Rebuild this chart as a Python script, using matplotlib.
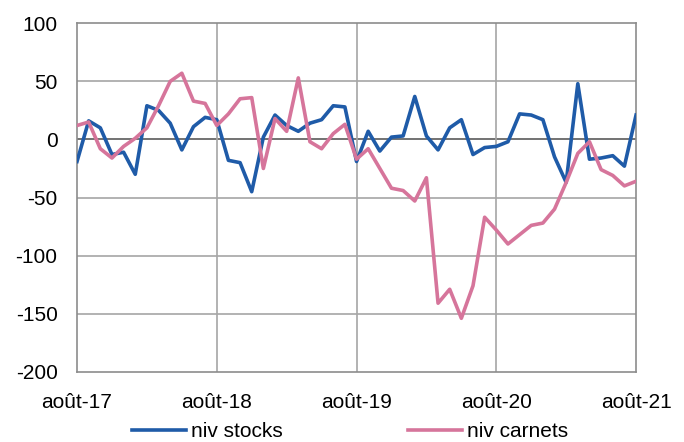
import numpy as np
import pandas as pd
import matplotlib
matplotlib.use("Agg")
import matplotlib.pyplot as plt

plt.rcParams["font.family"] = ["Liberation Sans", "DejaVu Sans"]
plt.rcParams["axes.unicode_minus"] = False

# monthly series, Aug 2017 -> Aug 2021
months = pd.date_range("2017-08-01", "2021-08-01", freq="MS")
niv_stocks = [-19, 16, 10, -13, -11, -30, 29, 25, 14, -9, 11, 19,
              17, -18, -20, -45, 2, 21, 12, 7, 14, 17, 29, 28,
              -19, 7, -10, 2, 3, 37, 3, -9, 10, 17, -13, -7,
              -6, -2, 22, 21, 17, -15, -37, 48, -17, -16, -14, -23,
              21]
niv_carnets = [12, 15, -8, -16, -6, 1, 10, 29, 50, 57, 33, 31,
               12, 22, 35, 36, -25, 18, 7, 53, -2, -8, 5, 13,
               -17, -8, -25, -42, -44, -53, -33, -141, -129, -154, -126, -67,
               -78, -90, -82, -74, -72, -60, -37, -12, -2, -26, -31, -40,
               -36]
tick_labels = ["août-17", "août-18", "août-19", "août-20", "août-21"]

BLUE = "#1f5ba8"
PINK = "#d6759b"

fig = plt.figure(figsize=(6.84, 4.42), dpi=100)
ax = fig.add_axes([0.1126, 0.159, 0.8173, 0.7883])

x = np.arange(len(months))
ax.plot(x, niv_stocks, color=BLUE, lw=2.6, label="niv stocks", zorder=3)
ax.plot(x, niv_carnets, color=PINK, lw=2.6, label="niv carnets", zorder=3)

ax.set_xlim(0, len(months) - 1)
ax.set_ylim(-200, 100)
ax.set_xticks(x[::12])
ax.set_xticklabels(tick_labels)
ax.set_yticks(np.arange(-200, 101, 50))

for yv in np.arange(-150, 100, 50):
    c = "#5a5a5a" if yv == 0 else "#a6a6a6"
    ax.axhline(yv, color=c, lw=1.2, zorder=1)
for xv in x[12:-1:12]:
    ax.axvline(xv, color="#a6a6a6", lw=1.2, zorder=1)

for s in ax.spines.values():
    s.set_color("#8c8c8c")
    s.set_linewidth(1.2)

ax.tick_params(length=0, labelsize=15)
ax.tick_params(axis="y", pad=14)
ax.tick_params(axis="x", pad=15)

fig.legend(loc="center", bbox_to_anchor=(0.512, 0.023), ncol=2,
           frameon=False, fontsize=15, handlelength=2.6, handletextpad=0.25,
           columnspacing=6.0)

fig.savefig("out.png", dpi=100)
